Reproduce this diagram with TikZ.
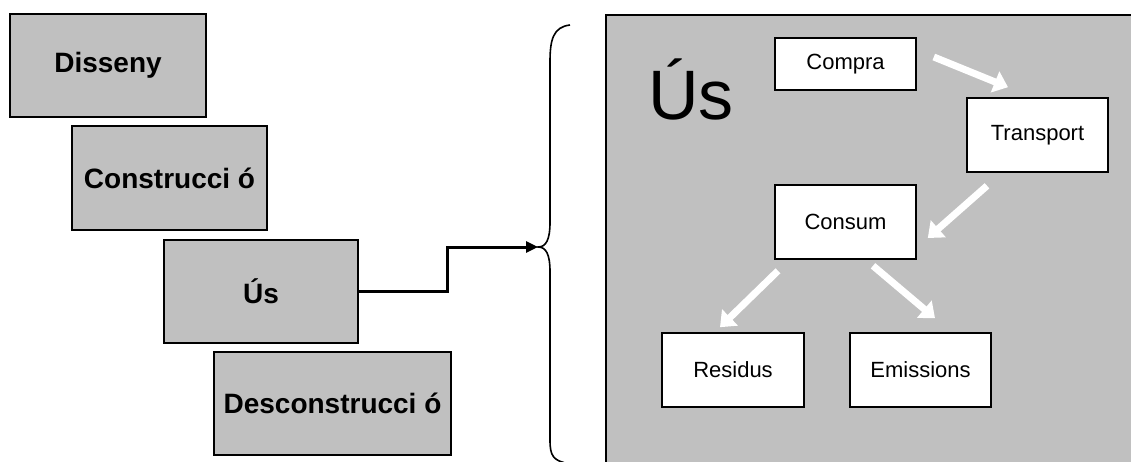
\documentclass[tikz,border=0pt]{standalone}
\usepackage{fontspec}
\setmainfont{Liberation Sans}
\usetikzlibrary{arrows.meta,calc}
\definecolor{panelgray}{HTML}{C0C0C0}
\tikzset{
  phase/.style={draw=black, line width=2pt, fill=panelgray, inner sep=0pt,
    font=\fontsize{28}{32}\selectfont\bfseries},
  stage/.style={draw=black, line width=1.6pt, fill=white, inner sep=0pt,
    font=\fontsize{22}{26}\selectfont},
  flow/.style={draw=white, line width=7pt, -{Triangle[length=14pt,width=22pt]}},
  link/.style={draw=black, line width=3pt, -{Triangle[length=12pt,width=11pt]}},
}
\begin{document}
\begin{tikzpicture}[x=1pt, y=-1pt]
\useasboundingbox (0,0) rectangle (1131,462);

% life-cycle phases on the left
\node[phase, minimum width=196pt, minimum height=103pt] (disseny) at (108,65.5) {Disseny};
\node[phase, minimum width=195pt, minimum height=104pt] (constr) at (169.5,178) {Construcci ó};
\node[phase, minimum width=194pt, minimum height=103pt] (us) at (261,291.5) {Ús};
\node[phase, minimum width=237pt, minimum height=103pt] (descon) at (332.5,403.5) {Desconstrucci ó};

% brace opening the detail of the use phase
\coordinate (bracetip) at (538,247);
\draw[line width=1.6pt] (570,25) .. controls (553,27) and (550,40) .. (550,62)
  -- (550,222) .. controls (550,240) and (546,247) .. (bracetip)
  .. controls (546,247) and (550,254) .. (550,272)
  -- (550,440) .. controls (550,456) and (553,461) .. (570,464);

% step connector from the use phase to the brace
\draw[link] (us.east) -- ++(88,0) |- (bracetip);

% detail panel
\node[draw=black, line width=2pt, fill=panelgray, inner sep=0pt, anchor=north west,
  minimum width=540pt, minimum height=460pt] (panel) at (605,14) {};
\node[anchor=base west, inner sep=0pt, font=\fontsize{70}{80}\selectfont] (title) at (648,120) {Ús};

\node[stage, minimum width=141pt, minimum height=52pt] (compra) at (845.5,64) {Compra};
\node[stage, minimum width=141pt, minimum height=74pt] (transport) at (1037.5,135) {Transport};
\node[stage, minimum width=141pt, minimum height=74pt] (consum) at (845.5,222) {Consum};
\node[stage, minimum width=142pt, minimum height=74pt] (residus) at (733,370) {Residus};
\node[stage, minimum width=141pt, minimum height=74pt] (emissions) at (920.5,370) {Emissions};

% white flow arrows between stages
\draw[flow] ($(compra.east)+(17,-7)$) -- ($(transport.north)+(-29.5,-10)$);
\draw[flow] ($(transport.south)+(-50.5,13)$) -- ($(consum.east)+(11,16)$);
\draw[flow] ($(consum.south)+(-67.5,11)$) -- ($(residus.north)+(-13,-5)$);
\draw[flow] ($(consum.south)+(27.5,6)$) -- ($(emissions.north)+(14.5,-14)$);
\end{tikzpicture}
\end{document}
